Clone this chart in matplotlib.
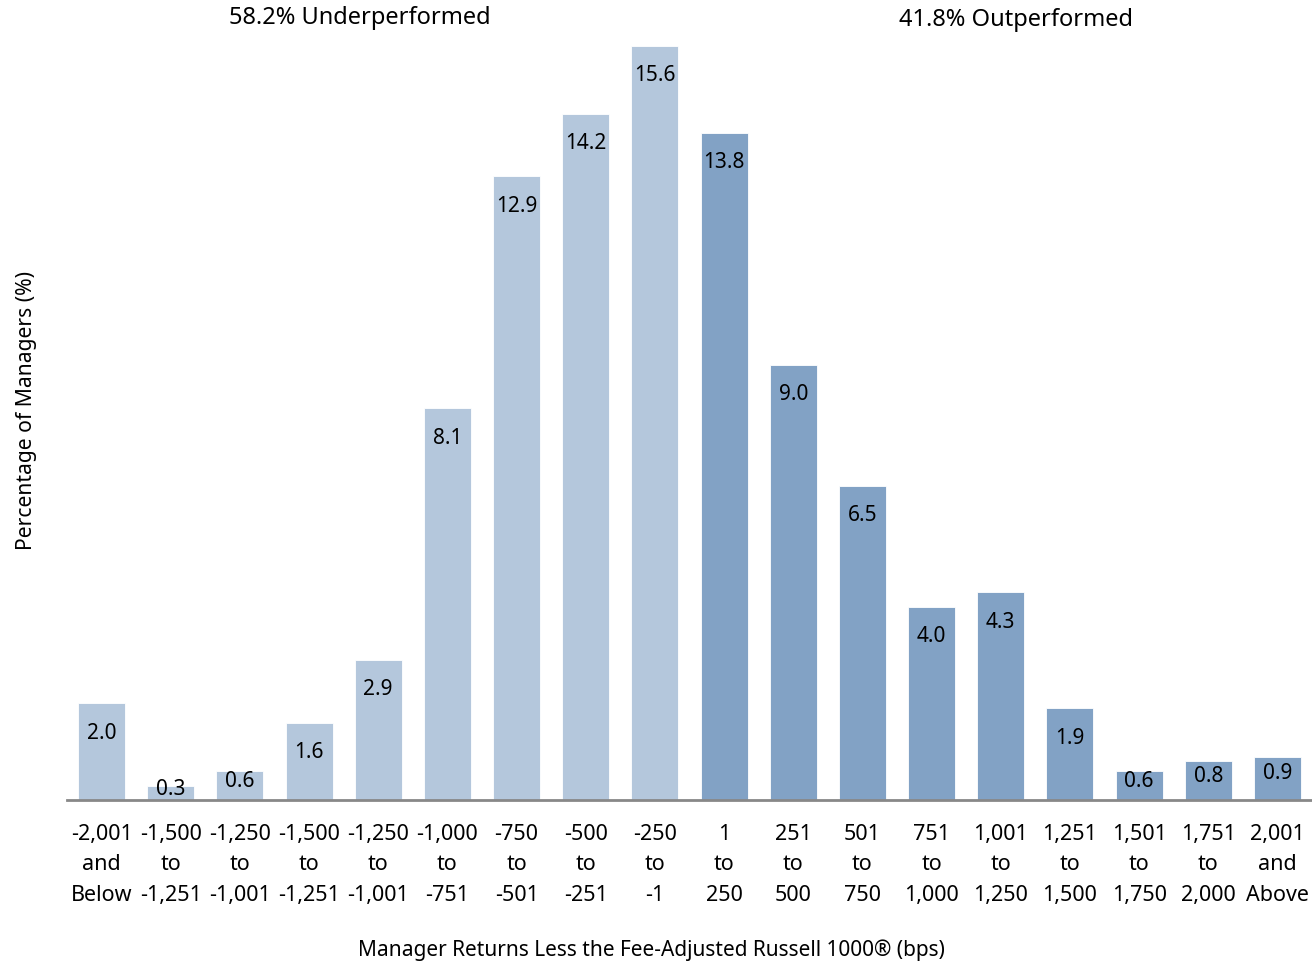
import matplotlib.pyplot as plt

plt.rcParams['font.family'] = ['Noto Sans', 'DejaVu Sans']

bins = ['-2,001\nand\nBelow', '-1,500\nto\n-1,251', '-1,250\nto\n-1,001',
        '-1,500\nto\n-1,251', '-1,250\nto\n-1,001', '-1,000\nto\n-751',
        '-750\nto\n-501', '-500\nto\n-251', '-250\nto\n-1',
        '1\nto\n250', '251\nto\n500', '501\nto\n750',
        '751\nto\n1,000', '1,001\nto\n1,250', '1,251\nto\n1,500',
        '1,501\nto\n1,750', '1,751\nto\n2,000', '2,001\nand\nAbove']
pct = [2.0, 0.3, 0.6, 1.6, 2.9, 8.1, 12.9, 14.2, 15.6,
       13.8, 9.0, 6.5, 4.0, 4.3, 1.9, 0.6, 0.8, 0.9]
n_under = 9
under_share = 58.2
over_share = 41.8

light = '#b4c7dc'
dark = '#82a2c5'
colors = [light if i < n_under else dark for i in range(len(pct))]

fig = plt.figure(figsize=(13.12, 9.65), dpi=100)
ax = fig.add_axes([67 / 1312, 1 - 800 / 965, (1312 - 67) / 1312, (800 - 46) / 965])

x = list(range(len(pct)))
ax.bar(x, pct, width=0.68, color=colors, edgecolor='white', linewidth=0.6)

# value labels sit just inside the top of each bar, lifted a bit on short bars
for xi, v in zip(x, pct):
    y = max(v - 0.62, 0.55 * v + 0.05)
    ax.text(xi, y, f'{v:.1f}', ha='center', va='center', fontsize=15, color='black')

ax.set_xlim(-0.5, len(pct) - 0.5)
ax.set_ylim(0, 15.6)
ax.set_xticks(x)
ax.set_xticklabels(bins, fontsize=15.5, linespacing=1.6)
ax.tick_params(axis='x', length=0, pad=17)
ax.set_yticks([])
for s in ['top', 'right', 'left']:
    ax.spines[s].set_visible(False)
ax.spines['bottom'].set_color('#888888')
ax.spines['bottom'].set_linewidth(2)

fig.text(360 / 1312, 1 - 18 / 965, f'{under_share}% Underperformed', ha='center', va='center', fontsize=17)
fig.text(1016 / 1312, 1 - 20 / 965, f'{over_share}% Outperformed', ha='center', va='center', fontsize=17)
fig.text(651 / 1312, 1 - 950 / 965, 'Manager Returns Less the Fee-Adjusted Russell 1000® (bps)',
         ha='center', va='center', fontsize=15)
fig.text(27 / 1312, 1 - 410 / 965, 'Percentage of Managers (%)', ha='center', va='center',
         rotation=90, fontsize=15.2)

fig.savefig('out.png', dpi=100)
